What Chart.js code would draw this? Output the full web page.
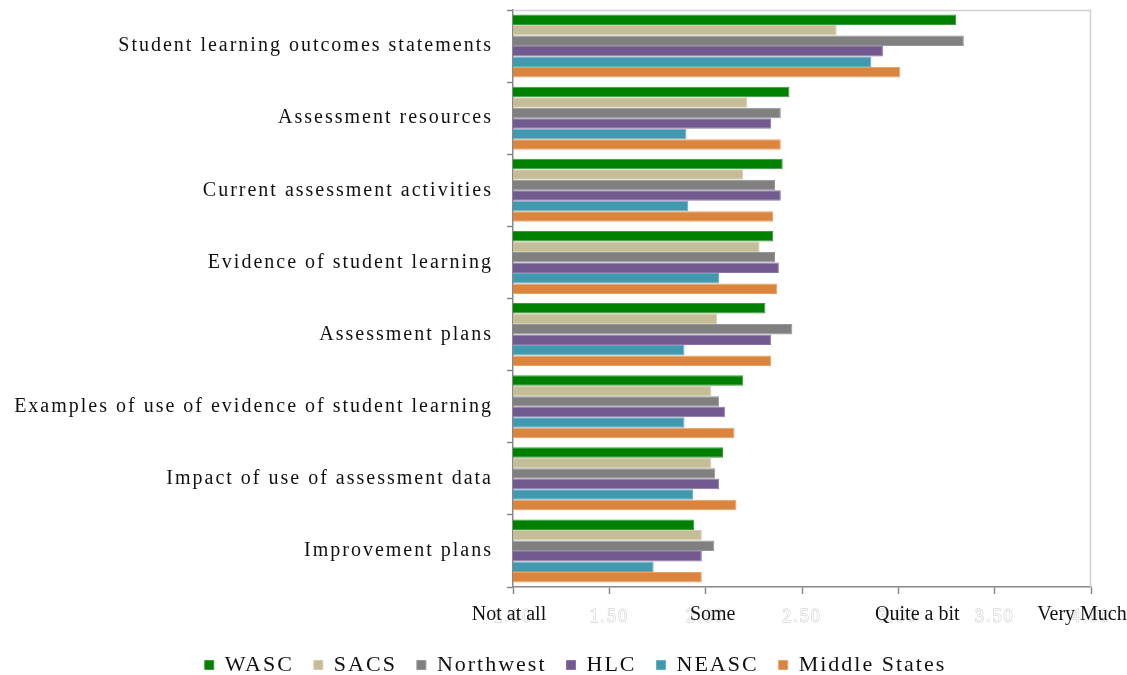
<!DOCTYPE html>
<html>
<head>
<meta charset="utf-8">
<script src="https://cdn.jsdelivr.net/npm/chart.js@4.4.1/dist/chart.umd.min.js"></script>
<style>
  html, body { margin: 0; padding: 0; background: #fff; }
  #wrap { width: 1127px; height: 675px; }
</style>
</head>
<body>
<div id="wrap"><canvas id="myChart" width="1127" height="675"></canvas></div>
<script>
// categories, top to bottom
const categories = [
    'Student learning outcomes statements',
    'Assessment resources',
    'Current assessment activities',
    'Evidence of student learning',
    'Assessment plans',
    'Examples of use of evidence of student learning',
    'Impact of use of assessment data',
    'Improvement plans'
];

// mean scores per accreditation region
const wasc         = [3.30, 2.435, 2.40, 2.35, 2.31, 2.195, 2.09, 1.94];
const sacs         = [2.68, 2.215, 2.195, 2.28, 2.06, 2.03, 2.03, 1.98];
const northwest    = [3.34, 2.39, 2.36, 2.36, 2.45, 2.07, 2.05, 2.045];
const hlc          = [2.92, 2.34, 2.39, 2.38, 2.34, 2.10, 2.07, 1.98];
const neasc        = [2.86, 1.90, 1.91, 2.07, 1.89, 1.89, 1.935, 1.73];
const middleStates = [3.01, 2.39, 2.35, 2.37, 2.34, 2.15, 2.16, 1.98];

// x axis ticks and the words written over them
const tickValues = [1.00, 1.50, 2.00, 2.50, 3.00, 3.50, 4.00];
const scaleWords = ['Not at all', 'Some', 'Quite a bit', 'Very Much'];
const scaleWordValues = [1, 2, 3, 4];

const serif = "'Liberation Serif', 'Times New Roman', serif";

function setSpacing(chart) {
    chart.ctx.letterSpacing = '2px';
}

const spacingPlugin = {
    id: 'spacing',
    beforeUpdate: setSpacing,
    beforeLayout: setSpacing,
    beforeDraw: setSpacing,
    afterLayout(chart) {
        // legend sits a bit right of the canvas centre
        chart.legend.left += 30;
        chart.legend.right += 30;
    }
};

const framePlugin = {
    id: 'frame',
    beforeDatasetsDraw(chart) {
        const a = chart.chartArea;
        const ctx = chart.ctx;
        ctx.save();
        ctx.strokeStyle = '#d0d0d0';
        ctx.lineWidth = 1.5;
        ctx.beginPath();
        ctx.moveTo(a.left, a.top + 0.5);
        ctx.lineTo(a.right - 0.5, a.top + 0.5);
        ctx.lineTo(a.right - 0.5, a.bottom);
        ctx.stroke();
        ctx.restore();
    },
    afterDraw(chart) {
        const x = chart.scales.x;
        const ctx = chart.ctx;
        const shift = [-4, 7, 19, -9];
        ctx.save();
        ctx.letterSpacing = '0px';
        ctx.font = '20px ' + serif;
        ctx.fillStyle = '#111';
        ctx.textAlign = 'center';
        ctx.textBaseline = 'middle';
        scaleWords.forEach((w, i) => {
            ctx.fillText(w, x.getPixelForValue(scaleWordValues[i]) + shift[i], x.top + 28);
        });
        ctx.restore();
    }
};

function noPad(scale) {
    scale.paddingTop = 0;
    scale.paddingBottom = 0;
    scale.paddingLeft = 0;
    scale.paddingRight = 0;
}

const ctx = document.getElementById('myChart').getContext('2d');
const myChart = new Chart(ctx, {
    type: 'bar',
    data: {
        labels: categories,
        datasets: [
            { label: 'WASC', data: wasc, backgroundColor: '#008000', borderColor: '#3a9a3a' },
            { label: 'SACS', data: sacs, backgroundColor: '#c4bd97', borderColor: '#d3cdae' },
            { label: 'Northwest', data: northwest, backgroundColor: '#808080', borderColor: '#969696' },
            { label: 'HLC', data: hlc, backgroundColor: '#725990', borderColor: '#8a74a6' },
            { label: 'NEASC', data: neasc, backgroundColor: '#4198af', borderColor: '#64aec2' },
            { label: 'Middle States', data: middleStates, backgroundColor: '#db843d', borderColor: '#e8a16a' }
        ]
    },
    options: {
        indexAxis: 'y',
        responsive: false,
        animation: false,
        datasets: {
            bar: {
                borderWidth: 1,
                borderSkipped: false,
                categoryPercentage: 0.875,
                barPercentage: 1.0
            }
        },
        layout: {
            padding: { top: 10, right: 36, left: 0, bottom: -11 }
        },
        scales: {
            x: {
                min: 1,
                max: 4,
                afterBuildTicks(scale) {
                    scale.ticks = tickValues.map(v => ({ value: v }));
                },
                afterFit(scale) {
                    scale.height = 47;
                    noPad(scale);
                },
                grid: {
                    drawOnChartArea: false,
                    tickLength: 7,
                    tickWidth: 1.5,
                    color: '#888'
                },
                border: { color: '#888', width: 1.5 },
                ticks: {
                    callback: v => Number(v).toFixed(2),
                    color: '#ffffff',
                    textStrokeColor: '#c8c8c8',
                    textStrokeWidth: 1,
                    font: { family: serif, size: 18 },
                    padding: 12,
                    maxRotation: 0
                }
            },
            y: {
                afterFit(scale) {
                    scale.width = 513;
                    noPad(scale);
                },
                grid: {
                    offset: true,
                    drawOnChartArea: false,
                    tickLength: 6,
                    tickWidth: 1.5,
                    color: '#888'
                },
                border: { color: '#888', width: 1.5 },
                ticks: {
                    autoSkip: false,
                    color: '#111',
                    font: { family: serif, size: 20 },
                    padding: 14
                }
            }
        },
        plugins: {
            legend: {
                position: 'bottom',
                labels: {
                    boxWidth: 9,
                    boxHeight: 9,
                    color: '#111',
                    padding: 20,
                    font: { family: serif, size: 22 }
                }
            },
            tooltip: { enabled: false }
        }
    },
    plugins: [spacingPlugin, framePlugin]
});
</script>
</body>
</html>
